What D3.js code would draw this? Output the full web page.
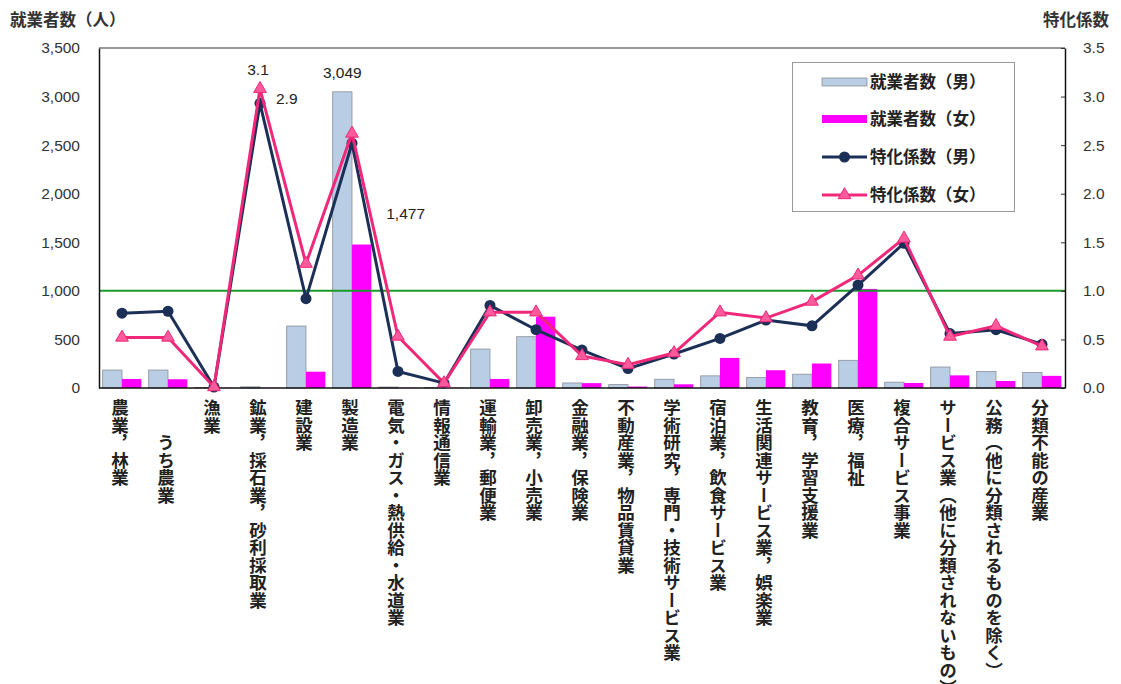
<!DOCTYPE html>
<html>
<head>
<meta charset="utf-8">
<script src="https://cdn.jsdelivr.net/npm/d3@7"></script>
<style>
  body { margin: 0; background: #fff; }
  svg text { fill: #222; }
</style>
</head>
<body>
<svg id="chart" width="1121" height="684"></svg>
<script>
// 産業別 就業者数と特化係数
var cats = ["農業，林業", "　　うち農業", "漁業", "鉱業，採石業，砂利採取業", "建設業", "製造業",
  "電気・ガス・熱供給・水道業", "情報通信業", "運輸業，郵便業", "卸売業，小売業", "金融業，保険業",
  "不動産業，物品賃貸業", "学術研究，専門・技術サービス業", "宿泊業，飲食サービス業",
  "生活関連サービス業，娯楽業", "教育，学習支援業", "医療，福祉", "複合サービス事業",
  "サービス業（他に分類されないもの）", "公務（他に分類されるものを除く）", "分類不能の産業"];
var menWorkers   = [185, 185, 5, 12, 638, 3049, 10, 6, 401, 528, 52, 35, 90, 125, 108, 142, 285, 60, 216, 170, 160];
var womenWorkers = [93, 90, 2, 2, 168, 1477, 3, 2, 93, 734, 50, 15, 38, 310, 183, 252, 1020, 52, 130, 72, 125];
var menCoef   = [0.77, 0.79, 0.01, 2.93, 0.92, 2.52, 0.17, 0.05, 0.85, 0.60, 0.39, 0.20, 0.35, 0.51, 0.70, 0.64, 1.06, 1.49, 0.56, 0.60, 0.45];
var womenCoef = [0.52, 0.52, 0.01, 3.08, 1.28, 2.62, 0.53, 0.05, 0.78, 0.78, 0.33, 0.24, 0.36, 0.78, 0.72, 0.89, 1.16, 1.54, 0.53, 0.64, 0.43];
var leftTicks  = [0, 500, 1000, 1500, 2000, 2500, 3000, 3500];
var rightTicks = [0, 0.5, 1.0, 1.5, 2.0, 2.5, 3.0, 3.5];
var seriesNames = ["就業者数（男）", "就業者数（女）", "特化係数（男）", "特化係数（女）"];

var pL = 99, pR = 1065, pT = 48, pB = 388;
var jp = "'Noto Sans CJK JP', sans-serif";
var num = "'Liberation Sans', Arial, sans-serif";

var svg = d3.select("#chart");

var x0 = d3.scaleBand().domain(cats).range([pL, pR]).paddingInner(0.16).paddingOuter(0.08);
var x1 = d3.scaleBand().domain(["m", "f"]).range([0, x0.bandwidth()]);
var y = d3.scaleLinear().domain([0, 3500]).range([pB, pT]);
var y2 = d3.scaleLinear().domain([0, 3.5]).range([pB, pT]);
var cx = function(c) { return x0(c) + x0.bandwidth() / 2; };

// bars
var g = svg.append("g");
g.selectAll(".bm").data(cats).enter().append("rect")
  .attr("x", function(d) { return x0(d) + x1("m"); })
  .attr("y", function(d, i) { return y(menWorkers[i]); })
  .attr("width", x1.bandwidth())
  .attr("height", function(d, i) { return pB - y(menWorkers[i]); })
  .attr("fill", "#b9cde5").attr("stroke", "#8a8f99").attr("stroke-width", 0.8);
g.selectAll(".bf").data(cats).enter().append("rect")
  .attr("x", function(d) { return x0(d) + x1("f"); })
  .attr("y", function(d, i) { return y(womenWorkers[i]); })
  .attr("width", x1.bandwidth())
  .attr("height", function(d, i) { return pB - y(womenWorkers[i]); })
  .attr("fill", "#ff00ff");

// reference line at 1.0
svg.append("line").attr("x1", pL).attr("x2", pR)
  .attr("y1", y2(1)).attr("y2", y2(1))
  .attr("stroke", "#1a9a2a").attr("stroke-width", 2);

// axes
var ya = svg.append("g").attr("transform", "translate(" + pL + ",0)")
  .call(d3.axisLeft(y).tickValues(leftTicks).tickFormat(d3.format(",")).tickSize(0).tickPadding(19));
var yb = svg.append("g").attr("transform", "translate(" + pR + ",0)")
  .call(d3.axisRight(y2).tickValues(rightTicks).tickFormat(d3.format(".1f")).tickSizeInner(-4).tickSizeOuter(0).tickPadding(18));
[ya, yb].forEach(function(a) {
  a.select(".domain").attr("stroke", "#111").attr("stroke-width", 1.5);
  a.selectAll("text").style("font-family", num).style("font-size", "15.5px").style("fill", "#333");
  a.selectAll("line").attr("stroke", "#333");
});
svg.append("line").attr("x1", pL).attr("x2", pR).attr("y1", pT).attr("y2", pT)
  .attr("stroke", "#333").attr("stroke-width", 1.2);
svg.append("line").attr("x1", pL).attr("x2", pR).attr("y1", pB).attr("y2", pB)
  .attr("stroke", "#111").attr("stroke-width", 1.5);

// lines
var navy = "#1b2f57", pink = "#f0287a";
var lineM = d3.line().x(function(d, i) { return cx(cats[i]); }).y(function(d) { return y2(d); });
svg.append("path").datum(menCoef).attr("d", lineM)
  .attr("fill", "none").attr("stroke", navy).attr("stroke-width", 3);
svg.selectAll(".pm").data(menCoef).enter().append("circle")
  .attr("cx", function(d, i) { return cx(cats[i]); }).attr("cy", function(d) { return y2(d); })
  .attr("r", 5.5).attr("fill", navy);
svg.append("path").datum(womenCoef).attr("d", lineM)
  .attr("fill", "none").attr("stroke", pink).attr("stroke-width", 3);
var tri = d3.symbol().type(d3.symbolTriangle).size(70);
svg.selectAll(".pf").data(womenCoef).enter().append("path")
  .attr("d", tri)
  .attr("transform", function(d, i) { return "translate(" + cx(cats[i]) + "," + y2(d) + ")"; })
  .attr("fill", "#ff5a9c").attr("stroke", pink).attr("stroke-width", 1);

// data labels
function lab(xp, yp, t, anchor) {
  svg.append("text").attr("x", xp).attr("y", yp).attr("text-anchor", anchor || "middle")
    .style("font-family", num).style("font-size", "15.5px").style("fill", "#222").text(t);
}
var iMin = 3, iMfg = 5;
lab(cx(cats[iMin]) - 2, y2(womenCoef[iMin]) - 14, d3.format(".1f")(womenCoef[iMin]));
lab(cx(cats[iMin]) + 16, y2(menCoef[iMin]) + 1, d3.format(".1f")(menCoef[iMin]), "start");
lab(x0(cats[iMfg]) + x1("m") + x1.bandwidth() / 2, y(menWorkers[iMfg]) - 14, d3.format(",")(menWorkers[iMfg]));
lab(x0(cats[iMfg]) + x1("f") + x1.bandwidth() / 2 + 44, y(womenWorkers[iMfg]) - 26, d3.format(",")(womenWorkers[iMfg]));

// category labels (vertical)
svg.selectAll(".cl").data(cats).enter().append("text")
  .attr("x", function(d) { return cx(d) - 2; })
  .attr("y", 399)
  .style("writing-mode", "vertical-rl")
  .style("font-family", jp).style("font-size", "17.5px").style("font-weight", "bold")
  .style("fill", "#222")
  .text(function(d) { return d; });

// axis titles
svg.append("text").attr("x", 10).attr("y", 26).style("font-family", jp)
  .style("font-size", "16.5px").style("font-weight", "bold").style("fill", "#333").text("就業者数（人）");
svg.append("text").attr("x", 1043).attr("y", 26).style("font-family", jp)
  .style("font-size", "16.5px").style("font-weight", "bold").style("fill", "#333").text("特化係数");

// legend
var lg = svg.append("g");
lg.append("rect").attr("x", 792.5).attr("y", 62.5).attr("width", 222).attr("height", 149)
  .attr("fill", "#fff").attr("stroke", "#999");
var rowY = [82, 119, 157, 195];
lg.append("rect").attr("x", 822).attr("y", rowY[0] - 4).attr("width", 45).attr("height", 8)
  .attr("fill", "#b9cde5").attr("stroke", "#8a8f99").attr("stroke-width", 0.8);
lg.append("rect").attr("x", 822).attr("y", rowY[1] - 4).attr("width", 45).attr("height", 8)
  .attr("fill", "#ff00ff");
lg.append("line").attr("x1", 822).attr("x2", 867).attr("y1", rowY[2]).attr("y2", rowY[2])
  .attr("stroke", navy).attr("stroke-width", 3);
lg.append("circle").attr("cx", 844.5).attr("cy", rowY[2]).attr("r", 5.5).attr("fill", navy);
lg.append("line").attr("x1", 822).attr("x2", 867).attr("y1", rowY[3]).attr("y2", rowY[3])
  .attr("stroke", pink).attr("stroke-width", 3);
lg.append("path").attr("d", tri).attr("transform", "translate(844.5," + rowY[3] + ")")
  .attr("fill", "#ff5a9c").attr("stroke", pink);
lg.selectAll(".lt").data(seriesNames).enter().append("text")
  .attr("x", 870).attr("y", function(d, i) { return rowY[i]; }).attr("dy", "0.35em")
  .style("font-family", jp).style("font-size", "16.5px").style("font-weight", "bold").style("fill", "#222")
  .text(function(d) { return d; });
</script>
</body>
</html>
